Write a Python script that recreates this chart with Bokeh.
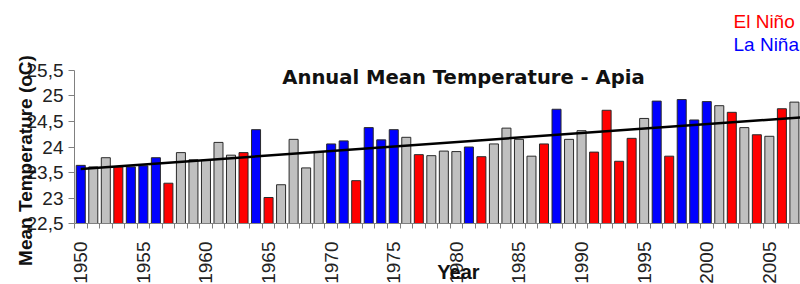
import math
from bokeh.plotting import figure
from bokeh.models import ColumnDataSource, Range1d, FixedTicker, Label
from bokeh.embed import file_html
from bokeh.resources import INLINE

years = list(range(1950, 2008))
temps = [23.64, 23.61, 23.79, 23.61, 23.61, 23.63, 23.79, 23.29, 23.89, 23.75,
         23.74, 24.09, 23.84, 23.89, 24.34, 23.01, 23.26, 24.15, 23.59, 23.91,
         24.06, 24.12, 23.34, 24.38, 24.14, 24.34, 24.19, 23.85, 23.83, 23.92,
         23.91, 24.00, 23.81, 24.06, 24.37, 24.15, 23.82, 24.06, 24.74, 24.15,
         24.32, 23.90, 24.72, 23.72, 24.17, 24.56, 24.90, 23.82, 24.93, 24.53,
         24.89, 24.81, 24.68, 24.38, 24.24, 24.21, 24.75, 24.88]
# E = El Nino, L = La Nina, N = neutral
phase = list("LNNELLLENNNNNELENNNNLLELLLNENNNLENNNNELNNEEEENLELLLNENENEN")
phase_colors = {"E": "#ff0000", "L": "#0000ff", "N": "#c0c0c0"}

trend_years = [1950, 2007.5]
trend_values = [23.57, 24.58]

y_ticks = [22.5, 23.0, 23.5, 24.0, 24.5, 25.0, 25.5]
y_tick_labels = ["22,5", "23", "23,5", "24", "24,5", "25", "25,5"]
x_label_years = list(range(1950, 2006, 5))
x_tick_marks = [y - 0.5 for y in range(1950, 2009)]

src = ColumnDataSource(dict(year=years, temp=temps,
                            color=[phase_colors[c] for c in phase]))

p = figure(width=800, height=284, output_backend="svg", toolbar_location=None,
           x_range=Range1d(1943.589, 2007.487), y_range=Range1d(21.304, 26.8725),
           min_border=0)
p.outline_line_color = None
p.xgrid.visible = False
p.ygrid.visible = False
p.background_fill_color = "white"
p.border_fill_color = "white"

p.vbar(x="year", top="temp", bottom=22.5, width=0.72, source=src,
       fill_color="color", line_color="#2a2a2a", line_width=1)
p.line(trend_years, trend_values, line_color="black", line_width=2.5)

# y axis
ya = p.yaxis[0]
ya.fixed_location = 1949.5
ya.ticker = FixedTicker(ticks=y_ticks, minor_ticks=[])
ya.major_label_overrides = {t: l for t, l in zip(y_ticks, y_tick_labels)}
ya.bounds = (22.5, 25.5)
ya.axis_line_color = "#808080"
ya.major_tick_line_color = "#808080"
ya.major_tick_out = 6
ya.major_tick_in = 0
ya.major_label_standoff = 5
ya.major_label_text_font = "Liberation Sans"
ya.major_label_text_font_size = "19px"
ya.major_label_text_color = "#222222"

# x axis
xa = p.xaxis[0]
xa.fixed_location = 22.5
xa.ticker = FixedTicker(ticks=x_label_years, minor_ticks=x_tick_marks)
xa.bounds = (1949.5, 2010)
xa.axis_line_color = "#808080"
xa.major_tick_line_color = None
xa.major_tick_out = 0
xa.major_tick_in = 0
xa.minor_tick_line_color = "#808080"
xa.minor_tick_out = 5
xa.minor_tick_in = 0
xa.major_label_orientation = math.pi / 2
xa.major_label_standoff = 13
xa.major_label_text_font = "Liberation Sans"
xa.major_label_text_font_size = "19px"
xa.major_label_text_color = "#222222"

# texts
p.add_layout(Label(x=1980.57, y=25.357, text="Annual Mean Temperature - Apia",
                   text_font="DejaVu Sans", text_font_style="bold",
                   text_font_size="19.6px", text_color="#111111",
                   text_align="center", text_baseline="alphabetic"))
p.add_layout(Label(x=1945.586, y=23.735, text="Mean Temperature (oC)",
                   angle=math.pi / 2, text_font="Liberation Sans",
                   text_font_style="bold", text_font_size="19px",
                   text_color="#111111", text_align="center",
                   text_baseline="alphabetic"))
p.add_layout(Label(x=1980.17, y=21.549, text="Year",
                   text_font="Liberation Sans", text_font_style="bold",
                   text_font_size="20px", text_color="#111111",
                   text_align="center", text_baseline="alphabetic"))
p.add_layout(Label(x=2002.135, y=26.455, text="El Niño",
                   text_font="Liberation Sans", text_font_size="19px",
                   text_color="#ff0000", text_align="left",
                   text_baseline="alphabetic"))
p.add_layout(Label(x=2002.135, y=26.01, text="La Niña",
                   text_font="Liberation Sans", text_font_size="19px",
                   text_color="#0000ff", text_align="left",
                   text_baseline="alphabetic"))

open("out.html", "w").write(file_html(p, INLINE))
